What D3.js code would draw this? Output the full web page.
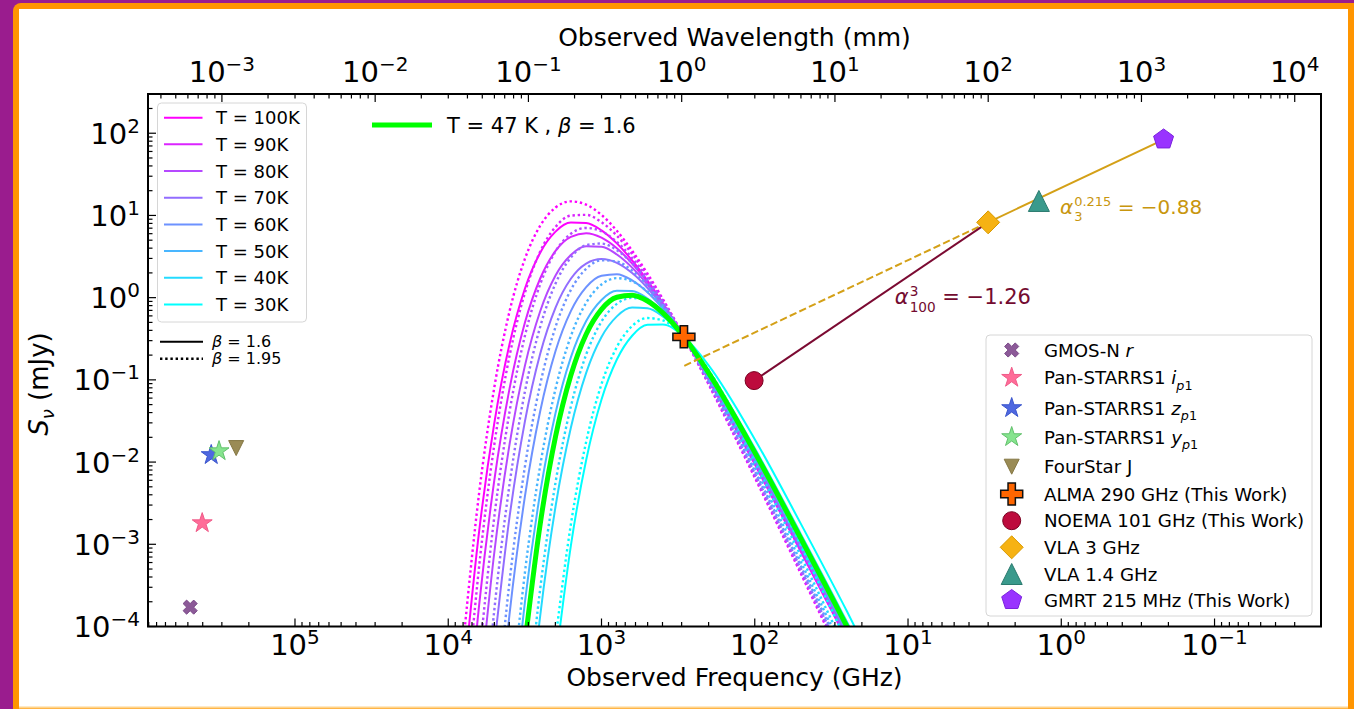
<!DOCTYPE html>
<html>
<head>
<meta charset="utf-8">
<script src="https://cdn.jsdelivr.net/npm/d3@7"></script>
<style>
  html, body { margin: 0; padding: 0; background: #9a1c8e; }
  svg { display: block; font-family: "DejaVu Sans", sans-serif; }
</style>
</head>
<body>
<svg id="chart" width="1354" height="709"></svg>
<script>
// ---------------------------------------------------------------
// Modified-blackbody SED grid (observed frame), fluxes in mJy.
// All curves share one frequency grid; null = off the plot.
// ---------------------------------------------------------------
const gridFreqGHz = [7943, 6310, 5012, 3981, 3162, 2512, 1995, 1585, 1259, 1000,
                     794, 631, 501, 398, 290, 200, 100, 50, 25, 16];

const tempsK = [100, 90, 80, 70, 60, 50, 40, 30];

// beta = 1.6, one row per temperature (same order as tempsK)
const sedBeta160 = [
  [2.15e-5, 1.355e-3, 0.0294, 0.273, 1.282, 3.52, 6.35, 8.18, 8.11, 6.58, 4.57, 2.83, 1.614, 0.861, 0.334, 0.1005, 0.00942, 8.09e-4, 6.78e-5, null],
  [1.52e-6, 1.71e-4, 5.89e-3, 0.0783, 0.494, 1.710, 3.698, 5.495, 6.081, 5.370, 3.990, 2.594, 1.531, 0.840, 0.334, 0.1023, 0.00971, 8.38e-4, 7.03e-5, null],
  [null, 1.28e-5, 7.78e-4, 0.0164, 0.148, 0.684, 1.862, 3.304, 4.217, 4.159, 3.350, 2.317, 1.432, 0.811, 0.334, 0.1045, 0.01009, 8.75e-4, 7.36e-5, null],
  [null, null, 5.70e-5, 2.15e-3, 0.0310, 0.2075, 0.757, 1.698, 2.600, 2.951, 2.655, 1.995, 1.312, 0.778, 0.334, 0.1076, 0.01062, 9.29e-4, 7.82e-5, null],
  [null, null, 1.71e-6, 1.41e-4, 3.79e-3, 0.0415, 0.224, 0.686, 1.343, 1.849, 1.932, 1.626, 1.164, 0.735, 0.334, 0.1122, 0.0114, 1.005e-3, 8.47e-5, null],
  [null, null, null, 3.03e-6, 1.95e-4, 4.25e-3, 0.0396, 0.1875, 0.519, 0.938, 1.213, 1.205, 0.975, 0.675, 0.334, 0.1189, 0.01262, 1.122e-3, 9.51e-5, null],
  [null, null, null, null, 2.20e-6, 1.35e-4, 2.88e-3, 0.0261, 0.1216, 0.332, 0.592, 0.757, 0.741, 0.592, 0.334, 0.1297, 0.01469, 1.330e-3, 1.132e-4, 2.17e-5],
  [null, null, null, null, null, null, 3.56e-5, 9.59e-4, 0.01062, 0.0577, 0.1766, 0.344, 0.467, 0.473, 0.334, 0.1503, 0.0190, 1.77e-3, 1.52e-4, 2.91e-5]
];

// beta = 1.95
const sedBeta195 = [
  [6.84e-5, 3.98e-3, 0.0796, 0.682, 2.958, 7.50, 12.47, 14.83, 13.55, 10.14, 6.50, 3.715, 1.954, 0.962, 0.334, 0.0881, 0.00649, 4.38e-4, 2.88e-5, null],
  [4.85e-6, 5.04e-4, 0.0160, 0.196, 1.140, 3.639, 7.261, 9.954, 10.16, 8.279, 5.675, 3.404, 1.854, 0.938, 0.334, 0.0897, 0.00668, 4.53e-4, 2.99e-5, null],
  [null, 3.75e-5, 2.11e-3, 0.0410, 0.342, 1.455, 3.656, 5.984, 7.047, 6.412, 4.764, 3.041, 1.734, 0.906, 0.334, 0.0916, 0.00695, 4.73e-4, 3.13e-5, null],
  [null, 1.31e-6, 1.55e-4, 5.38e-3, 0.0716, 0.442, 1.486, 3.076, 4.345, 4.550, 3.776, 2.618, 1.589, 0.869, 0.334, 0.0944, 0.00731, 5.02e-4, 3.32e-5, null],
  [null, null, 4.63e-6, 3.53e-4, 8.75e-3, 0.0883, 0.440, 1.242, 2.244, 2.851, 2.748, 2.133, 1.409, 0.820, 0.334, 0.0984, 0.00785, 5.43e-4, 3.60e-5, null],
  [null, null, null, 7.59e-6, 4.49e-4, 9.04e-3, 0.0778, 0.340, 0.867, 1.445, 1.726, 1.581, 1.180, 0.753, 0.334, 0.1042, 8.69e-3, 6.07e-4, 4.04e-5, null],
  [null, null, null, null, 5.07e-6, 2.87e-4, 5.65e-3, 0.0473, 0.203, 0.512, 0.841, 0.993, 0.897, 0.661, 0.334, 0.1138, 0.01012, 7.19e-4, 4.81e-5, null],
  [null, null, null, null, null, null, 7.00e-5, 1.74e-3, 0.0177, 0.0889, 0.2512, 0.452, 0.565, 0.528, 0.334, 0.1318, 0.01309, 9.57e-4, 6.44e-5, null]
];

// best fit: T = 47 K, beta = 1.6
const sedBestFit = [null, null, null, null, 6.21e-5, 1.76e-3, 0.0204, 0.1135, 0.359, 0.721, 1.012, 1.072, 0.910, 0.652, 0.334, 0.1213, 0.01312, 1.172e-3, 9.93e-5, 1.90e-5];

// ---------------------------------------------------------------
// Photometry
// ---------------------------------------------------------------
const photFreqGHz  = [4.83e5, 4.03e5, 3.52e5, 3.13e5, 2.42e5, 290, 101, 3, 1.4, 0.215];
const photFluxMJy  = [1.72e-4, 1.81e-3, 0.0122, 0.0136, 0.0148, 0.334, 0.098, 8.24, 15.0, 84];
const photLabels = [
  [["GMOS-N "], ["r", "i"]],
  [["Pan-STARRS1 "], ["i", "i"], ["p", "is"], ["1", "s"]],
  [["Pan-STARRS1 "], ["z", "i"], ["p", "is"], ["1", "s"]],
  [["Pan-STARRS1 "], ["y", "i"], ["p", "is"], ["1", "s"]],
  [["FourStar J"]],
  [["ALMA 290 GHz (This Work)"]],
  [["NOEMA 101 GHz (This Work)"]],
  [["VLA 3 GHz"]],
  [["VLA 1.4 GHz"]],
  [["GMRT 215 MHz (This Work)"]]
];
const photMarkers = ["X", "star", "star", "star", "vtri", "plus", "circle", "diamond", "tri", "pent"];
const photFill   = ["#8c5a98", "#ff6c98", "#4f68e0", "#86e48e", "#9a8b55", "#ff6600", "#bd0b3d", "#f6b213", "#3a9a8c", "#9933ff"];
const photStroke = ["#7a4888", "#f05a88", "#3a55cc", "#62c06c", "#857744", "#111111", "#7a0020", "#d99a00", "#2a7a6e", "#7a22dd"];
const photRadius = [7.5, 10.5, 10.5, 10.5, 7.5, 11, 9, 11.5, 10.5, 10.5];

// spectral indices (labels and the power-law segments drawn from them)
const alphaRadio = -0.88;   // 215 MHz -> 3 GHz, extended to 290 GHz
const alphaMm = -1.26;      // 3 GHz -> 100 GHz
const radioLineFreqGHz = [0.215, 3];
const radioExtFreqGHz = [3, 290];

const yTickExp = [-4, -3, -2, -1, 0, 1, 2];
const xTickExp = [5, 4, 3, 2, 1, 0, -1];
const topTickExp = [-3, -2, -1, 0, 1, 2, 3, 4];

// ---------------------------------------------------------------
const C_MM_GHZ = 299.792458;
const W = 1354, H = 709;
const L = 148, R = 1321, T = 94, B = 626.5;

const svg = d3.select("#chart");

// page frame
svg.append("rect").attr("width", W).attr("height", H).attr("fill", "#9a1c8e");
svg.append("rect").attr("x", 13).attr("y", 3).attr("width", W - 13 + 20).attr("height", H - 3 + 20)
  .attr("rx", 8).attr("fill", "#ff9500");
svg.append("rect").attr("x", 19).attr("y", 9).attr("width", W - 25).attr("height", H - 11)
  .attr("fill", "#ffffff");
svg.append("line").attr("x1", 19).attr("x2", W - 6).attr("y1", H - 1.5).attr("y2", H - 1.5)
  .attr("stroke", "#ffd48c").attr("stroke-width", 2);

const x = d3.scaleLog().domain([9.1e5, 0.0202]).range([L, R]);
const y = d3.scaleLog().domain([1e-4, 300]).range([B, T]);
const xTop = d3.scaleLog().domain([C_MM_GHZ / 9.1e5, C_MM_GHZ / 0.0202]).range([L, R]);

svg.append("defs").append("clipPath").attr("id", "plotClip")
  .append("rect").attr("x", L).attr("y", T).attr("width", R - L).attr("height", B - T);

const plot = svg.append("g").attr("clip-path", "url(#plotClip)");

// temperature colours: matplotlib "cool" map from 30 K (cyan) to 100 K (magenta)
const tColor = t => d3.interpolateRgb("#00ffff", "#ff00ff")((t - 30) / 70);

const sedLine = d3.line()
  .defined(d => d[1] != null)
  .x(d => x(d[0])).y(d => y(d[1]))
  .curve(d3.curveMonotoneX);

const pts = row => gridFreqGHz.map((f, i) => [f, row[i]]);

tempsK.forEach((t, i) => {
  plot.append("path").attr("d", sedLine(pts(sedBeta160[i])))
    .attr("fill", "none").attr("stroke", tColor(t)).attr("stroke-width", 2);
  plot.append("path").attr("d", sedLine(pts(sedBeta195[i])))
    .attr("fill", "none").attr("stroke", tColor(t)).attr("stroke-width", 2.4)
    .attr("stroke-dasharray", "2.4 2.8");
});
plot.append("path").attr("d", sedLine(pts(sedBestFit)))
  .attr("fill", "none").attr("stroke", "#00ff00").attr("stroke-width", 5);

// power-law segments
const iVLA3 = 7, iNOEMA = 6;
const pl = (f, a) => photFluxMJy[iVLA3] * Math.pow(f / photFreqGHz[iVLA3], a);
const straight = d3.line().x(d => x(d[0])).y(d => y(d[1]));
plot.append("path")
  .attr("d", straight(radioExtFreqGHz.map(f => [f, pl(f, alphaRadio)])))
  .attr("fill", "none").attr("stroke", "#d4a017").attr("stroke-width", 2).attr("stroke-dasharray", "7.4 3.2");
plot.append("path")
  .attr("d", straight(radioLineFreqGHz.map(f => [f, pl(f, alphaRadio)])))
  .attr("fill", "none").attr("stroke", "#d4a017").attr("stroke-width", 2);
plot.append("path")
  .attr("d", straight([[photFreqGHz[iNOEMA], photFluxMJy[iNOEMA]], [photFreqGHz[iVLA3], photFluxMJy[iVLA3]]]))
  .attr("fill", "none").attr("stroke", "#7b0a32").attr("stroke-width", 2);

// marker shapes
function markerPath(type, r) {
  const p = d3.path();
  const poly = v => { v.forEach((q, k) => k ? p.lineTo(q[0], q[1]) : p.moveTo(q[0], q[1])); p.closePath(); };
  if (type === "circle") { p.arc(0, 0, r, 0, 2 * Math.PI); return p.toString(); }
  if (type === "plus" || type === "X") {
    const a = r / 3;
    let v = [[-a, -r], [a, -r], [a, -a], [r, -a], [r, a], [a, a], [a, r], [-a, r], [-a, a], [-r, a], [-r, -a], [-a, -a]];
    if (type === "X") {
      const c = Math.SQRT1_2;
      v = v.map(([u, w]) => [(u - w) * c, (u + w) * c]);
    }
    poly(v); return p.toString();
  }
  if (type === "star") {
    const v = [];
    for (let k = 0; k < 10; k++) {
      const rr = k % 2 ? r * 0.382 : r, ang = -Math.PI / 2 + k * Math.PI / 5;
      v.push([rr * Math.cos(ang), rr * Math.sin(ang)]);
    }
    poly(v); return p.toString();
  }
  if (type === "pent") {
    const v = [];
    for (let k = 0; k < 5; k++) {
      const ang = -Math.PI / 2 + k * 2 * Math.PI / 5;
      v.push([r * Math.cos(ang), r * Math.sin(ang)]);
    }
    poly(v); return p.toString();
  }
  if (type === "tri") { poly([[0, -r], [r, r], [-r, r]]); return p.toString(); }
  if (type === "vtri") { poly([[0, r], [r, -r], [-r, -r]]); return p.toString(); }
  if (type === "diamond") { poly([[0, -r], [r, 0], [0, r], [-r, 0]]); return p.toString(); }
}

const marks = svg.append("g").attr("clip-path", "url(#plotClip)");
photFreqGHz.forEach((f, i) => {
  marks.append("path")
    .attr("d", markerPath(photMarkers[i], photRadius[i]))
    .attr("transform", `translate(${x(f)},${y(photFluxMJy[i])})`)
    .attr("fill", photFill[i]).attr("stroke", photStroke[i])
    .attr("stroke-width", photMarkers[i] === "plus" ? 1.5 : 1);
});

// ---------------------------------------------------------------
// axes
// ---------------------------------------------------------------
const axes = svg.append("g");
axes.append("rect").attr("x", L).attr("y", T).attr("width", R - L).attr("height", B - T)
  .attr("fill", "none").attr("stroke", "#000").attr("stroke-width", 2);

function minorTicks(scale, lo, hi) {
  const out = [];
  const [d0, d1] = d3.extent(scale.domain());
  for (let e = lo; e <= hi; e++) for (let k = 2; k <= 9; k++) {
    const v = k * Math.pow(10, e);
    if (v > d0 && v < d1) out.push(v);
  }
  return out;
}

const tickG = axes.append("g").attr("stroke", "#000").attr("stroke-width", 1.2);
function tickLines(vals, pos, len, side) {
  vals.forEach(v => {
    const p = pos(v);
    if (side === "bottom") tickG.append("line").attr("x1", p).attr("x2", p).attr("y1", B).attr("y2", B - len);
    if (side === "top") tickG.append("line").attr("x1", p).attr("x2", p).attr("y1", T).attr("y2", T + len);
    if (side === "left") tickG.append("line").attr("y1", p).attr("y2", p).attr("x1", L).attr("x2", L + len);
  });
}
tickLines(xTickExp.map(e => Math.pow(10, e)), x, 8, "bottom");
tickLines(minorTicks(x, -2, 5), x, 4.5, "bottom");
tickLines(topTickExp.map(e => Math.pow(10, e)), xTop, 8, "top");
tickLines(minorTicks(xTop, -4, 4), xTop, 4.5, "top");
tickLines(yTickExp.map(e => Math.pow(10, e)), y, 8, "left");
tickLines(minorTicks(y, -4, 2), y, 4.5, "left");

const expStr = e => (e < 0 ? "\u2212" : "") + Math.abs(e);
function powLabel(xp, yp, e, anchor) {
  const t = axes.append("text").attr("x", xp).attr("y", yp).attr("text-anchor", anchor)
    .attr("font-size", 29).attr("fill", "#000");
  t.append("tspan").text("10");
  t.append("tspan").text(expStr(e)).attr("font-size", 20).attr("dy", -11);
}
xTickExp.forEach(e => powLabel(x(Math.pow(10, e)), 655, e, "middle"));
topTickExp.forEach(e => powLabel(xTop(Math.pow(10, e)), 82, e, "middle"));
yTickExp.forEach(e => powLabel(140, y(Math.pow(10, e)) + 10.5, e, "end"));

// axis titles
axes.append("text").attr("x", (L + R) / 2).attr("y", 686).attr("text-anchor", "middle")
  .attr("font-size", 25).text("Observed Frequency (GHz)");
axes.append("text").attr("x", (L + R) / 2).attr("y", 46).attr("text-anchor", "middle")
  .attr("font-size", 25).text("Observed Wavelength (mm)");
const yl = axes.append("text").attr("transform", `translate(48,384) rotate(-90)`)
  .attr("text-anchor", "middle").attr("font-size", 26);
yl.append("tspan").text("S").attr("font-style", "italic");
yl.append("tspan").text("\u03bd").attr("font-style", "italic").attr("font-size", 18).attr("dy", 6);
yl.append("tspan").text(" (mJy)").attr("dy", -6);

// ---------------------------------------------------------------
// rich text helper (italic / sub / sup runs)
// ---------------------------------------------------------------
function richText(sel, segs, size) {
  let shift = 0;
  segs.forEach(([txt, st = ""]) => {
    const sub = st.includes("s"), sup = st.includes("S");
    const target = sub ? size * 0.3 : sup ? -size * 0.35 : 0;
    sel.append("tspan").text(txt)
      .attr("dy", target - shift)
      .attr("font-size", (sub || sup) ? size * 0.7 : size)
      .attr("font-style", st.includes("i") ? "italic" : "normal");
    shift = target;
  });
}

// ---------------------------------------------------------------
// legends
// ---------------------------------------------------------------
const leg = svg.append("g");
// temperature legend
leg.append("rect").attr("x", 157.5).attr("y", 103).attr("width", 149).attr("height", 219).attr("rx", 4)
  .attr("fill", "#fff").attr("fill-opacity", 0.8).attr("stroke", "#d6d6d6").attr("stroke-width", 1);
tempsK.forEach((t, i) => {
  const ry = 117.7 + i * 26.67;
  leg.append("line").attr("x1", 164).attr("x2", 202.5).attr("y1", ry).attr("y2", ry)
    .attr("stroke", tColor(t)).attr("stroke-width", 2);
  leg.append("text").attr("x", 216).attr("y", ry + 6.5).attr("font-size", 18).text(`T = ${t}K`);
});
// beta legend
[["1.6", null], ["1.95", "2.4 2.8"]].forEach(([b, dash], i) => {
  const ry = 341.7 + i * 17;
  leg.append("line").attr("x1", 160).attr("x2", 203).attr("y1", ry).attr("y2", ry)
    .attr("stroke", "#000").attr("stroke-width", dash ? 2.4 : 2).attr("stroke-dasharray", dash);
  const t = leg.append("text").attr("x", 212).attr("y", ry + 5.5).attr("font-size", 16);
  richText(t, [["\u03b2", "i"], [" = " + b]], 16);
});
// best-fit legend
leg.append("line").attr("x1", 372).attr("x2", 432).attr("y1", 125).attr("y2", 125)
  .attr("stroke", "#00ff00").attr("stroke-width", 5);
{
  const t = leg.append("text").attr("x", 447).attr("y", 132.5).attr("font-size", 21);
  richText(t, [["T = 47 K , "], ["\u03b2", "i"], [" = 1.6"]], 21);
}
// photometry legend
leg.append("rect").attr("x", 986).attr("y", 335).attr("width", 326).attr("height", 281).attr("rx", 4)
  .attr("fill", "#fff").attr("fill-opacity", 0.8).attr("stroke", "#d6d6d6").attr("stroke-width", 1);
const legRows = [350, 377.7, 408, 437, 466.7, 494, 520.7, 547.3, 574, 600];
photLabels.forEach((segs, i) => {
  leg.append("path").attr("d", markerPath(photMarkers[i], photRadius[i]))
    .attr("transform", `translate(1011.7,${legRows[i]})`)
    .attr("fill", photFill[i]).attr("stroke", photStroke[i])
    .attr("stroke-width", photMarkers[i] === "plus" ? 1.5 : 1);
  const t = leg.append("text").attr("x", 1044).attr("y", legRows[i] + 6.5).attr("font-size", 18.2);
  richText(t, segs, 18.2);
});

// ---------------------------------------------------------------
// spectral index annotations (alpha with stacked super/subscript)
// ---------------------------------------------------------------
function stackedLabel(x0, y0, size, color, base, sup, sub, rest) {
  const t = svg.append("text").attr("x", x0).attr("y", y0).attr("fill", color).attr("font-size", size);
  const a = t.append("tspan").text(base).attr("font-style", "italic");
  const wb = a.node().getComputedTextLength() + 1;
  const up = size * 0.4, down = size * 0.36;
  const s1 = t.append("tspan").text(sup).attr("font-size", size * 0.65).attr("x", x0 + wb).attr("dy", -up);
  const ws = s1.node().getComputedTextLength();
  const s2 = t.append("tspan").text(sub).attr("font-size", size * 0.65).attr("x", x0 + wb).attr("dy", up + down);
  const wsub = s2.node().getComputedTextLength();
  t.append("tspan").text(rest).attr("x", x0 + wb + Math.max(ws, wsub)).attr("dy", -down);
}
const fmtA = a => (a < 0 ? "\u2212" : "") + Math.abs(a).toFixed(2);
stackedLabel(x(12.2), y(0.835), 21, "#730b30", "\u03b1", "3", "100", " = " + fmtA(alphaMm));
stackedLabel(x(1.02), y(10.4), 20, "#c8960e", "\u03b1", "0.215", "3", " = " + fmtA(alphaRadio));
</script>
</body>
</html>
